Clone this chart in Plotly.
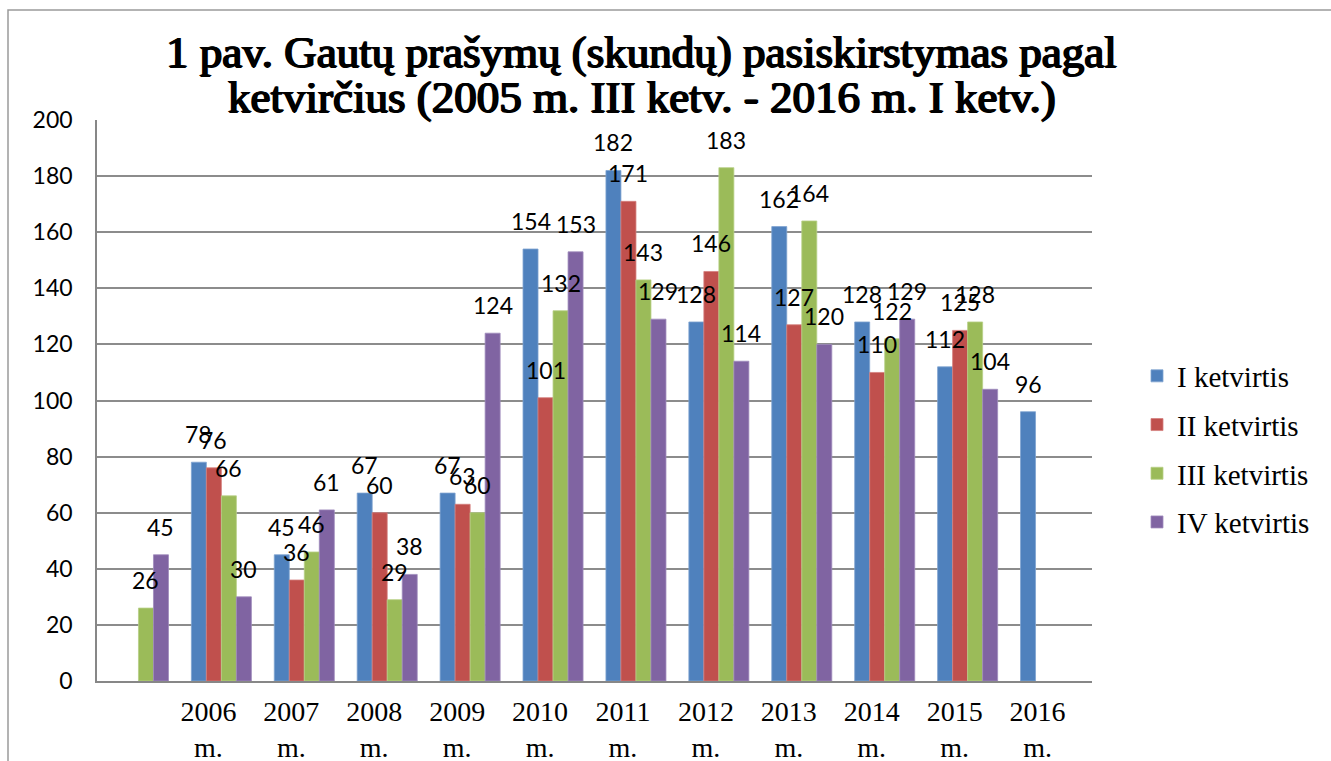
import plotly.graph_objects as go

# ---- data ----
categories = ["2005 m.", "2006 m.", "2007 m.", "2008 m.", "2009 m.", "2010 m.",
              "2011 m.", "2012 m.", "2013 m.", "2014 m.", "2015 m.", "2016 m."]
tick_labels = ["", "2006<br>m.", "2007<br>m.", "2008<br>m.", "2009<br>m.", "2010<br>m.",
               "2011<br>m.", "2012<br>m.", "2013<br>m.", "2014<br>m.", "2015<br>m.", "2016<br>m."]
series_names = ["I ketvirtis", "II ketvirtis", "III ketvirtis", "IV ketvirtis"]
q1 = [None, 78, 45, 67, 67, 154, 182, 128, 162, 128, 112, 96]
q2 = [None, 76, 36, 60, 63, 101, 171, 146, 127, 110, 125, None]
q3 = [26, 66, 46, 29, 60, 132, 143, 183, 164, 122, 128, None]
q4 = [45, 30, 61, 38, 124, 153, 129, 114, 120, 129, 104, None]
title_line1 = "1 pav. Gautų prašymų (skundų) pasiskirstymas pagal"
title_line2 = "ketvirčius (2005 m. III ketv. - 2016 m. I ketv.)"

series = [q1, q2, q3, q4]
colors = ["#4F81BD", "#C0504D", "#9BBB59", "#8064A2"]
edge_colors = ["#7FA3D1", "#D47F7D", "#B7CF87", "#A08CBC"]

SERIF = "Liberation Serif, Times New Roman, serif"

# ---- layout geometry (pixels) ----
W, H = 1331, 761
L, R, T, B = 97, 1092, 120, 681
pw, ph = R - L, B - T
bargap = 0.276

def px_x(x):
    return (x - L) / pw

def px_y(y):
    return (B - y) / ph

fig = go.Figure()
for name, vals, col, ecol in zip(series_names, series, colors, edge_colors):
    fig.add_trace(go.Bar(
        x=categories, y=vals, name=name,
        marker=dict(color=col, line=dict(color=ecol, width=0.8)),
        legendgroup=name,
    ))

# data labels above bars, positioned by category index + group offset
n = len(series)
slot = (1 - bargap) / n
annotations = []
for i, vals in enumerate(series):
    off = -(1 - bargap) / 2 + (i + 0.5) * slot
    for ci, v in enumerate(vals):
        if v is None:
            continue
        annotations.append(dict(
            x=ci + off, y=v, xref="x", yref="y", text=str(v), showarrow=False,
            yanchor="bottom", xanchor="center", yshift=12,
            font=dict(family="Lato", size=23, color="black"),
        ))

# title (two lines, tight spacing like the original); heavy serif via text shadow
title_shadow = "1px 0 0 #000, -1px 0 0 #000, 0 0.6px 0 #000, 0 -0.5px 0 #000"
for txt, cx, cy in [(title_line1, 641, 52), (title_line2, 642, 97)]:
    annotations.append(dict(
        x=px_x(cx), y=px_y(cy), xref="paper", yref="paper", text=txt,
        showarrow=False, xanchor="center", yanchor="middle",
        font=dict(family="Liberation Serif", size=45, color="black", shadow=title_shadow),
    ))

fig.update_layout(
    width=W, height=H,
    margin=dict(l=L, r=W - R, t=T, b=H - B),
    paper_bgcolor="white", plot_bgcolor="white",
    barmode="group", bargap=bargap, bargroupgap=0,
    annotations=annotations,
    showlegend=True,
    legend=dict(
        x=px_x(1137), y=px_y(449), xanchor="left", yanchor="middle",
        font=dict(family=SERIF, size=29, color="black"),
        traceorder="grouped", tracegroupgap=8,
        bgcolor="rgba(0,0,0,0)",
    ),
    shapes=[dict(
        type="rect", xref="paper", yref="paper",
        x0=px_x(8), x1=px_x(1345), y0=px_y(775), y1=px_y(10),
        line=dict(color="#9a9a9a", width=1.5), fillcolor="rgba(0,0,0,0)", layer="below",
    )],
)

fig.update_xaxes(
    type="category", categoryorder="array", categoryarray=categories,
    tickmode="array", tickvals=categories, ticktext=tick_labels,
    ticklabelshift=-13, ticklabelstandoff=4, automargin=False,
    tickfont=dict(family=SERIF, size=28, color="black"),
    showline=True, linecolor="#878787", linewidth=2,
    showgrid=False, ticks="", zeroline=False,
)
fig.update_yaxes(
    range=[0, 200], dtick=20, tick0=0, automargin=False,
    tickfont=dict(family="Lato", size=23, color="black"),
    showline=True, linecolor="#878787", linewidth=1.5,
    showgrid=True, gridcolor="#8c8c8c", gridwidth=1.5,
    zeroline=False, ticks="", ticklabelstandoff=18,
)

fig.write_html("out.html", config={"displayModeBar": False},
               post_script="document.body.style.margin='0';")
